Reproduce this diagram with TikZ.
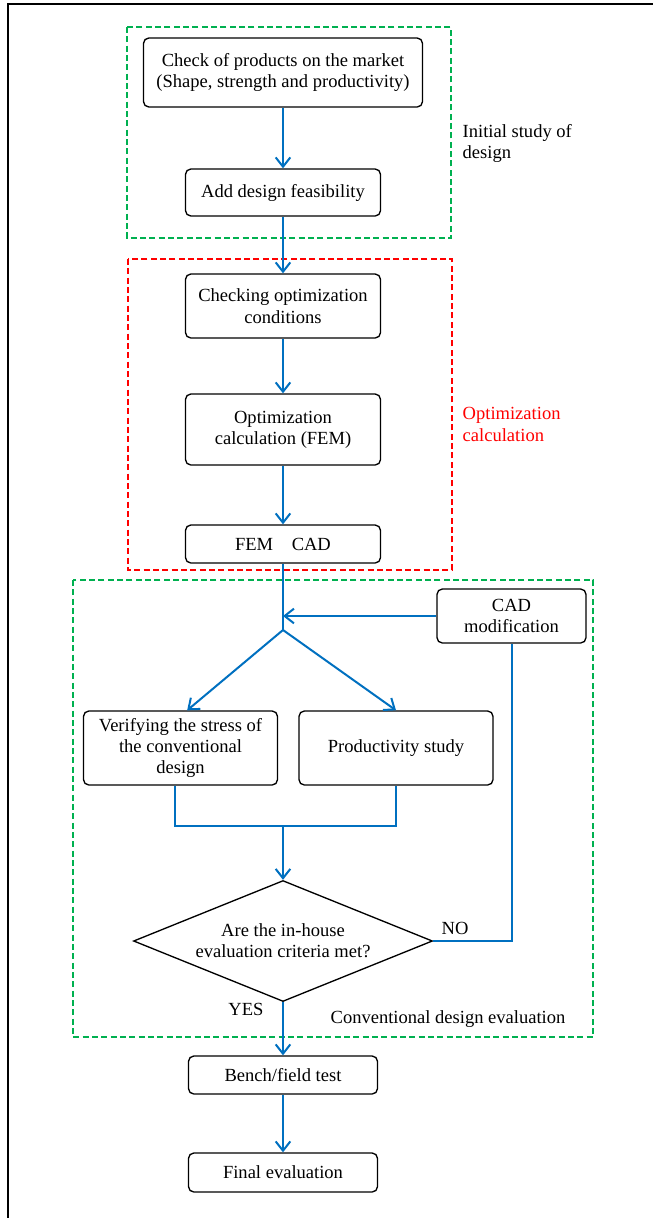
\documentclass[tikz,border=0pt]{standalone}
\usepackage{fontspec}
\setmainfont{Liberation Serif}
\usetikzlibrary{arrows.meta,shapes.geometric}
\definecolor{flowblue}{RGB}{0,112,192}
\definecolor{stagegreen}{RGB}{0,176,80}
\definecolor{stagered}{RGB}{255,0,0}
\begin{document}
\begin{tikzpicture}[x=0.75pt,y=-0.75pt,
    font=\fontsize{13.9}{16}\selectfont,
    stepbox/.style={draw,rounded corners=4pt,line width=1pt,align=center,inner sep=1pt},
    flow/.style={draw=flowblue,line width=1.5pt,-{Straight Barb[length=7pt,width=11pt]}},
    link/.style={draw=flowblue,line width=1.5pt},
    stage/.style={line width=1.3pt,dash pattern=on 4.5pt off 2.5pt}]
    \useasboundingbox (0,0) rectangle (653,1218);
    \draw[line width=1.2pt] (8,1218) -- (8,4) -- (653,4);
    % stages
    \draw[stage,stagegreen] (127,27) rectangle (451,238);
    \draw[stage,stagered] (128,259) rectangle (452,570);
    \draw[stage,stagegreen] (73,580) rectangle (593,1037);
    \node[anchor=west,align=left] (initlbl) at (458,143.5) {Initial study of\\design};
    \node[anchor=west,align=left,text=stagered] (optlbl) at (458,424.5) {Optimization\\calculation};
    \node (convlbl) at (448,1019) {Conventional design evaluation};
    % steps
    \node[stepbox,minimum width=209.25pt,minimum height=51.75pt] (market) at (283,72.5) {Check of products on the market\\(Shape, strength and productivity)};
    \node[stepbox,minimum width=146.25pt,minimum height=35.25pt] (feas) at (283,192.5) {Add design feasibility};
    \node[stepbox,minimum width=146.25pt,minimum height=48pt] (optcond) at (283,306) {Checking optimization\\conditions};
    \node[stepbox,minimum width=146.25pt,minimum height=53.25pt] (optcalc) at (283,429.5) {Optimization\\calculation (FEM)};
    \node[stepbox,minimum width=146.25pt,minimum height=28.5pt] (femcad) at (283,544) {FEM\quad CAD};
    \node[stepbox,minimum width=111.75pt,minimum height=40.5pt] (cadmod) at (511.5,616) {CAD\\modification};
    \node[stepbox,minimum width=145.5pt,minimum height=55.5pt] (stress) at (180.5,748) {Verifying the stress of\\the conventional\\design};
    \node[stepbox,minimum width=145.5pt,minimum height=55.5pt] (prod) at (396,748) {Productivity study};
    \node[draw,diamond,line width=1pt,inner sep=0pt,aspect=2.5,align=center,
          minimum width=224.25pt,minimum height=90.75pt] (criteria) at (283,941) {Are the in-house\\evaluation criteria met?};
    \node[stepbox,minimum width=141.75pt,minimum height=28.5pt] (bench) at (283,1075) {Bench/field test};
    \node[stepbox,minimum width=141.75pt,minimum height=29.25pt] (final) at (283,1172.5) {Final evaluation};
    \coordinate (split) at (283,630);
    \coordinate (merge) at (283,825.5);
    % connectors
    \draw[flow] (market) -- (feas);
    \draw[flow] (feas) -- (optcond);
    \draw[flow] (optcond) -- (optcalc);
    \draw[flow] (optcalc) -- (femcad);
    \draw[link] (femcad) -- (split);
    \draw[flow] (cadmod) -- (cadmod -| split);
    \draw[flow] (split) -- ([xshift=5pt]stress.north);
    \draw[flow] (split) -- (prod.north);
    \draw[link] ([xshift=-4pt]stress.south) |- (merge) -| (prod.south);
    \draw[flow] (merge) -- (criteria);
    \draw[link] (criteria.east) -| (cadmod.south);
    \draw[flow] (criteria) -- (bench);
    \draw[flow] (bench) -- (final);
    \node (nolbl) at (455,928) {NO};
    \node (yeslbl) at (246,1009) {YES};
\end{tikzpicture}
\end{document}
